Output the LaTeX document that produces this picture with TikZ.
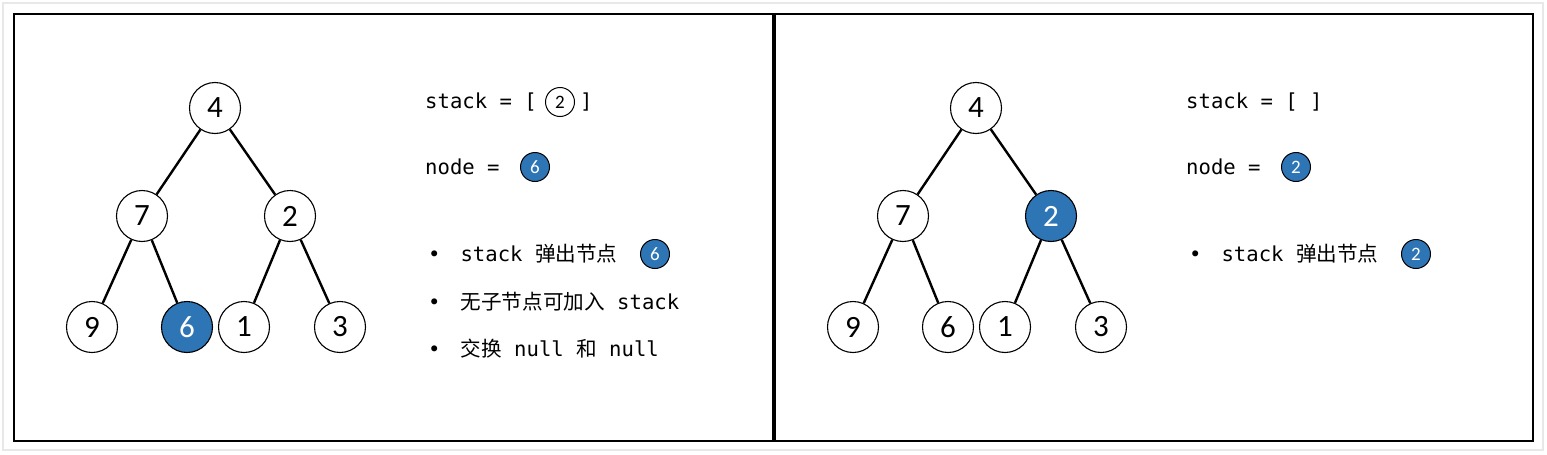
\documentclass[tikz,border=0pt]{standalone}
\usepackage{fontspec}
\setmainfont{Carlito}
\newfontfamily\monofont{DejaVu Sans Mono}
\newfontfamily\cjk{Noto Sans CJK SC}
\definecolor{nodeblue}{HTML}{2E75B6}
\begin{document}
\begin{tikzpicture}[x=1pt,y=-1pt,
  tn/.style={circle,draw=black,line width=1.1pt,fill=white,minimum size=51pt,inner sep=0pt,font=\fontsize{31}{33}\selectfont},
  tnb/.style={tn,fill=nodeblue,text=white},
  sn/.style={circle,draw=black,line width=1pt,fill=white,minimum size=29pt,inner sep=0pt,font=\fontsize{19}{20}\selectfont},
  snb/.style={sn,fill=nodeblue,text=white},
  edge/.style={line width=2.4pt},
  panel/.style={draw=black,line width=2.4pt},
  txt/.style={anchor=west,inner sep=0pt,font=\monofont\fontsize{20.6}{24}\selectfont}]
\useasboundingbox (0,0) rectangle (1547,455);
\draw[draw=black!9,line width=1.5pt] (3,3) rectangle (1543,450);
\draw[panel] (14,14) rectangle (773,441);
\draw[panel] (775,14) rectangle (1533,441);
% left tree
\node[tn] (a4) at (215,108) {4};
\node[tn] (a7) at (142,216) {7};
\node[tn] (a2) at (290,216) {2};
\node[tn] (a9) at (92,327) {9};
\node[tnb] (a6) at (187,327) {6};
\node[tn] (a1) at (244,327) {1};
\node[tn] (a3) at (340,327) {3};
\draw[edge] (a4) -- (a7); \draw[edge] (a4) -- (a2);
\draw[edge] (a7) -- (a9); \draw[edge] (a7) -- (a6);
\draw[edge] (a2) -- (a1); \draw[edge] (a2) -- (a3);
% left text
\node[txt] (ls) at (425,102) {stack = [};
\node[sn] (lsc) at (560,102) {2};
\node[txt] (lsr) at (580,102) {]};
\node[txt] (ln) at (425,167) {node =};
\node[snb] (lnc) at (535,167) {6};
\node[txt] (lb1) at (428,254) {•\hspace{20pt}stack {\cjk 弹出节点}};
\node[snb] (lb1c) at (655,254) {6};
\node[txt] (lb2) at (428,302) {•\hspace{20pt}{\cjk 无子节点可加入} stack};
\node[txt] (lb3) at (428,349) {•\hspace{20pt}{\cjk 交换} null {\cjk 和} null};
% right tree
\node[tn] (b4) at (976,108) {4};
\node[tn] (b7) at (903,216) {7};
\node[tnb] (b2) at (1051,216) {2};
\node[tn] (b9) at (853,327) {9};
\node[tn] (b6) at (948,327) {6};
\node[tn] (b1) at (1005,327) {1};
\node[tn] (b3) at (1101,327) {3};
\draw[edge] (b4) -- (b7); \draw[edge] (b4) -- (b2);
\draw[edge] (b7) -- (b9); \draw[edge] (b7) -- (b6);
\draw[edge] (b2) -- (b1); \draw[edge] (b2) -- (b3);
% right text
\node[txt] (rs) at (1186,102) {stack = [ ]};
\node[txt] (rn) at (1186,167) {node =};
\node[snb] (rnc) at (1296,167) {2};
\node[txt] (rb1) at (1189,254) {•\hspace{20pt}stack {\cjk 弹出节点}};
\node[snb] (rb1c) at (1416,254) {2};
\end{tikzpicture}
\end{document}
